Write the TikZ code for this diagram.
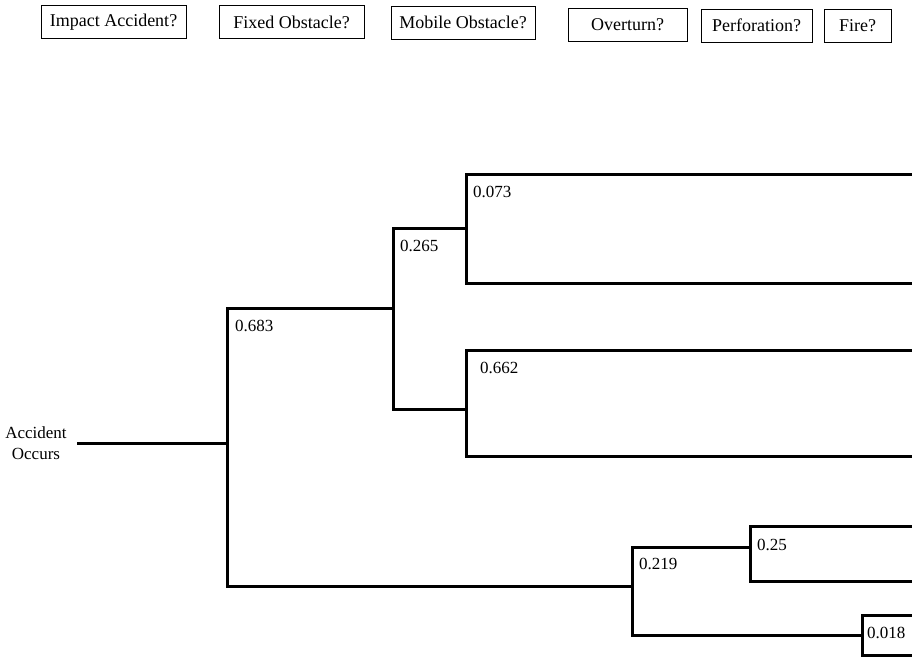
\documentclass[tikz,border=0pt]{standalone}
\usepackage{fontspec}
\setmainfont{Liberation Serif}
\newcommand{\qfont}{\fontsize{17}{21}\selectfont} % Label size.
\newcommand{\hfont}{\fontsize{18}{21}\selectfont} % Question size.
\tikzset{question/.style={draw,line width=0.8pt,inner sep=0pt,minimum height=33pt,font=\hfont},
         branch/.style={line width=3pt,line join=miter},
         prob/.style={anchor=west,inner sep=0pt,font=\qfont}}

\begin{document}
\begin{tikzpicture}[x=1pt,y=-1pt]
\useasboundingbox (0,0) rectangle (912,657);
\node[question,minimum width=145pt] (impact) at (113.5,22) {Impact Accident?};
\node[question,minimum width=145pt] (fixed) at (291.5,22) {Fixed Obstacle?};
\node[question,minimum width=144pt] (mobile) at (463,22.5) {Mobile Obstacle?};
\node[question,minimum width=119pt] (overturn) at (627.5,24.5) {Overturn?};
\node[question,minimum width=111pt] (perforation) at (756.5,25.5) {Perforation?};
\node[question,minimum width=67pt] (fire) at (857.5,26) {Fire?};

\node[align=center,inner sep=0pt,font=\qfont] (occurs) at (36,443.5) {Accident\\Occurs};
\coordinate (start) at (77,443);
\coordinate (impactfork) at (227,443);
\coordinate (fixedfork) at (393,308);
\coordinate (fixedyes) at (466,228);
\coordinate (fixedno) at (466,409);
\coordinate (nonimpact) at (632,586);
\coordinate (perfyes) at (750,547);
\coordinate (perfno) at (862,635);
\foreach \y [count=\i] in {174,283,350,456,526,581,615,655}
  \coordinate (end\i) at (912,\y);

\draw[branch] (start) -- (impactfork);
\draw[branch] (impactfork) |- (fixedfork);
\draw[branch] (impactfork) |- (nonimpact);
\draw[branch] (fixedfork) |- (fixedyes);
\draw[branch] (fixedfork) |- (fixedno);
\draw[branch] (fixedyes) |- (end1);
\draw[branch] (fixedyes) |- (end2);
\draw[branch] (fixedno) |- (end3);
\draw[branch] (fixedno) |- (end4);
\draw[branch] (nonimpact) |- (perfyes);
\draw[branch] (nonimpact) |- (perfno);
\draw[branch] (perfyes) |- (end5);
\draw[branch] (perfyes) |- (end6);
\draw[branch] (perfno) |- (end7);
\draw[branch] (perfno) |- (end8);

\node[prob] (pimpact) at (235,326) {0.683};
\node[prob] (pfixed) at (400,246) {0.265};
\node[prob] (pmobile) at (473,192) {0.073};
\node[prob] (pmobile2) at (480,368) {0.662};
\node[prob] (poverturn) at (639,564) {0.219};
\node[prob] (pperf) at (757,545) {0.25};
\node[prob] (pfire) at (867,633) {0.018};
\end{tikzpicture}
\end{document}
